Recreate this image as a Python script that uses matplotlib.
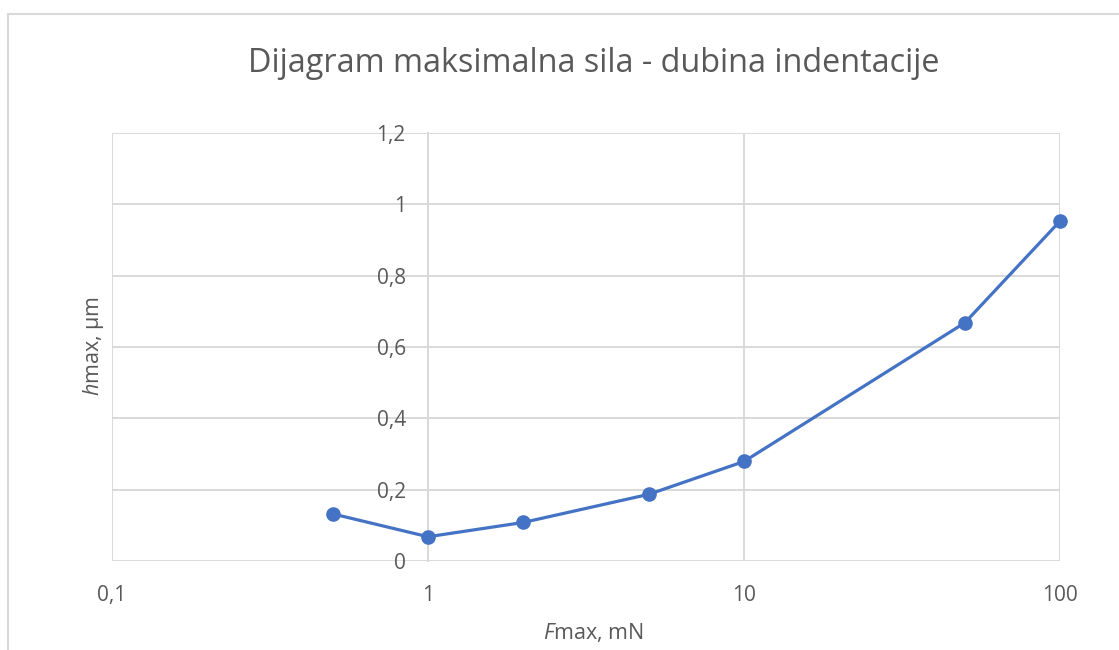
import matplotlib
matplotlib.use("Agg")
import matplotlib.pyplot as plt
from matplotlib.patches import Rectangle

F_max = [0.5, 1, 2, 5, 10, 50, 100]
h_max = [0.132, 0.068, 0.108, 0.187, 0.279, 0.668, 0.953]
x_ticks = [0.1, 1, 10, 100]
x_tick_labels = ["0,1", "1", "10", "100"]
y_ticks = [0, 0.2, 0.4, 0.6, 0.8, 1.0, 1.2]
y_tick_labels = ["0", "0,2", "0,4", "0,6", "0,8", "1", "1,2"]

FONT = "Open Sans"
plt.rcParams["font.family"] = [FONT, "DejaVu Sans"]
plt.rcParams["mathtext.fontset"] = "custom"
plt.rcParams["mathtext.rm"] = FONT
plt.rcParams["mathtext.it"] = FONT + ":italic"

txt = "#595959"
grid = "#D9D9D9"
blue = "#4472C4"

fig = plt.figure(figsize=(11.19, 6.5), dpi=100)
fig.patches.append(Rectangle((8 / 1119, -0.1), 1.2, 1 - 14 / 650 + 0.1,
                             transform=fig.transFigure, fill=False,
                             edgecolor=grid, linewidth=1.5))
ax = fig.add_axes([112 / 1119, 1 - 561 / 650, (1060 - 112) / 1119, (561 - 133) / 650])
ax.set_xscale("log")
ax.set_xlim(0.1, 100)
ax.set_ylim(0, 1.2)

for xv in x_ticks:
    ax.axvline(xv, color=grid, lw=1.4, zorder=0)
for yv in y_ticks:
    ax.axhline(yv, color=grid, lw=1.4, zorder=0)

ax.plot(F_max, h_max, color=blue, lw=2.3, marker="o", markersize=9.5, zorder=3,
        clip_on=False)

for s in ["top", "right", "bottom"]:
    ax.spines[s].set_visible(False)
ax.spines["left"].set_position(("data", 1))
ax.spines["left"].set_color(grid)
ax.spines["left"].set_linewidth(1.4)

ax.set_xticks(x_ticks)
ax.set_xticklabels(x_tick_labels)
ax.minorticks_off()
ax.set_yticks(y_ticks)
ax.set_yticklabels(y_tick_labels)
ax.tick_params(axis="both", length=0, colors=txt, labelsize=15)
ax.tick_params(axis="x", pad=17)
ax.tick_params(axis="y", pad=16)

fig.text(594 / 1119, 1 - 64 / 650, "Dijagram maksimalna sila - dubina indentacije",
         ha="center", va="center", fontsize=23.3, color=txt)
fig.text(593 / 1119, 1 - 632 / 650, r"$\mathit{F}$max, mN", ha="center", va="center",
         fontsize=15.5, color=txt)
fig.text(93 / 1119, 1 - 346 / 650, r"$\mathit{h}$max, µm", ha="center", va="center",
         fontsize=15.5, color=txt, rotation=90)

fig.savefig("out.png", dpi=100)
